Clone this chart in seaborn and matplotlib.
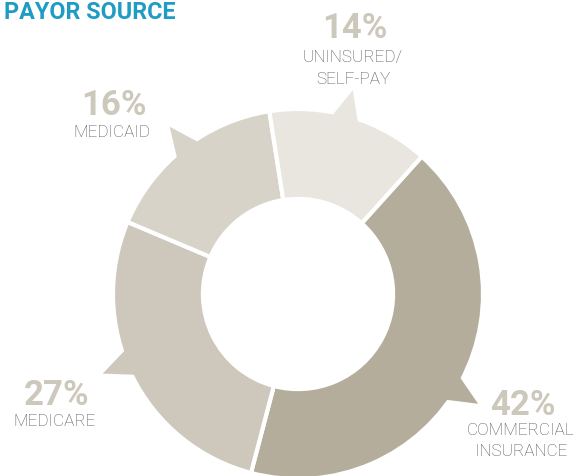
import numpy as np
import matplotlib
matplotlib.use("Agg")
import matplotlib.pyplot as plt
from matplotlib.patches import Polygon
import seaborn as sns

# Payor mix (percent of patients)
categories = ["COMMERCIAL\nINSURANCE", "MEDICARE", "MEDICAID", "UNINSURED/\nSELF-PAY"]
shares = [42, 27, 16, 14]
pct_labels = ["42%", "27%", "16%", "14%"]

colors = ["#b4ad9c", "#cec8bc", "#d7d3c8", "#e9e6df"]
title_color = "#1e9cc4"
pct_color = "#cdc8bc"
label_color = "#58585a"

sns.set_theme(style="white")
plt.rcParams["font.family"] = ["Roboto", "DejaVu Sans"]

W, H = 576, 476
DPI = 100
fig = plt.figure(figsize=(W / DPI, H / DPI), dpi=DPI)
ax = fig.add_axes([0, 0, 1, 1])

# pixel frame of the ring: centre and outer radius
CX, CY, R = 298, 294, 185


def px(x, y):
    """Convert a pixel position (origin top-left) into axes data units."""
    return (x - CX) / R, (CY - y) / R


wedges, _ = ax.pie(
    shares,
    colors=colors,
    startangle=48,
    counterclock=False,
    radius=1.0,
    wedgeprops=dict(width=0.486, edgecolor="white", linewidth=3),
)

# small triangular tabs on the outside of each wedge
tab_shift = [3.0, 4.0, 0.5, -1.5]   # degrees clockwise from wedge middle
tab_half = 4.6                      # half angular width of the tab base
tab_tip = 1.14                      # tip radius
for w, col, shift in zip(wedges, colors, tab_shift):
    mid = (w.theta1 + w.theta2) / 2.0 - shift
    a1, a2 = np.radians(mid - tab_half), np.radians(mid + tab_half)
    am = np.radians(mid)
    pts = [
        (0.97 * np.cos(a1), 0.97 * np.sin(a1)),
        (tab_tip * np.cos(am), tab_tip * np.sin(am)),
        (0.97 * np.cos(a2), 0.97 * np.sin(a2)),
    ]
    ax.add_patch(Polygon(pts, closed=True, facecolor=col, edgecolor="none", zorder=3))

# label anchors (pixel centre x, baseline of percent, baseline of first name line)
label_pos = [(521, 415, 435), (55, 405, 426), (112, 115, 137), (353, 38, 62)]
line_gap = 21.5
for name, pct, (x, yb_pct, yb_name) in zip(categories, pct_labels, label_pos):
    ax.text(*px(x + 2, yb_pct), pct, ha="center", va="baseline",
            fontsize=25, fontweight="bold", color=pct_color)
    for i, line in enumerate(name.split("\n")):
        ax.text(*px(x, yb_name + i * line_gap), line, ha="center", va="baseline",
                fontsize=12.3, fontweight="light", color=label_color)

ax.text(*px(4, 19), "PAYOR SOURCE", ha="left", va="baseline",
        fontsize=16.8, fontweight="bold", color=title_color)

ax.set_xlim(-CX / R, (W - CX) / R)
ax.set_ylim(-(H - CY) / R, CY / R)
ax.set_aspect("equal")
ax.axis("off")

fig.savefig("out.png", dpi=DPI, facecolor="white")
